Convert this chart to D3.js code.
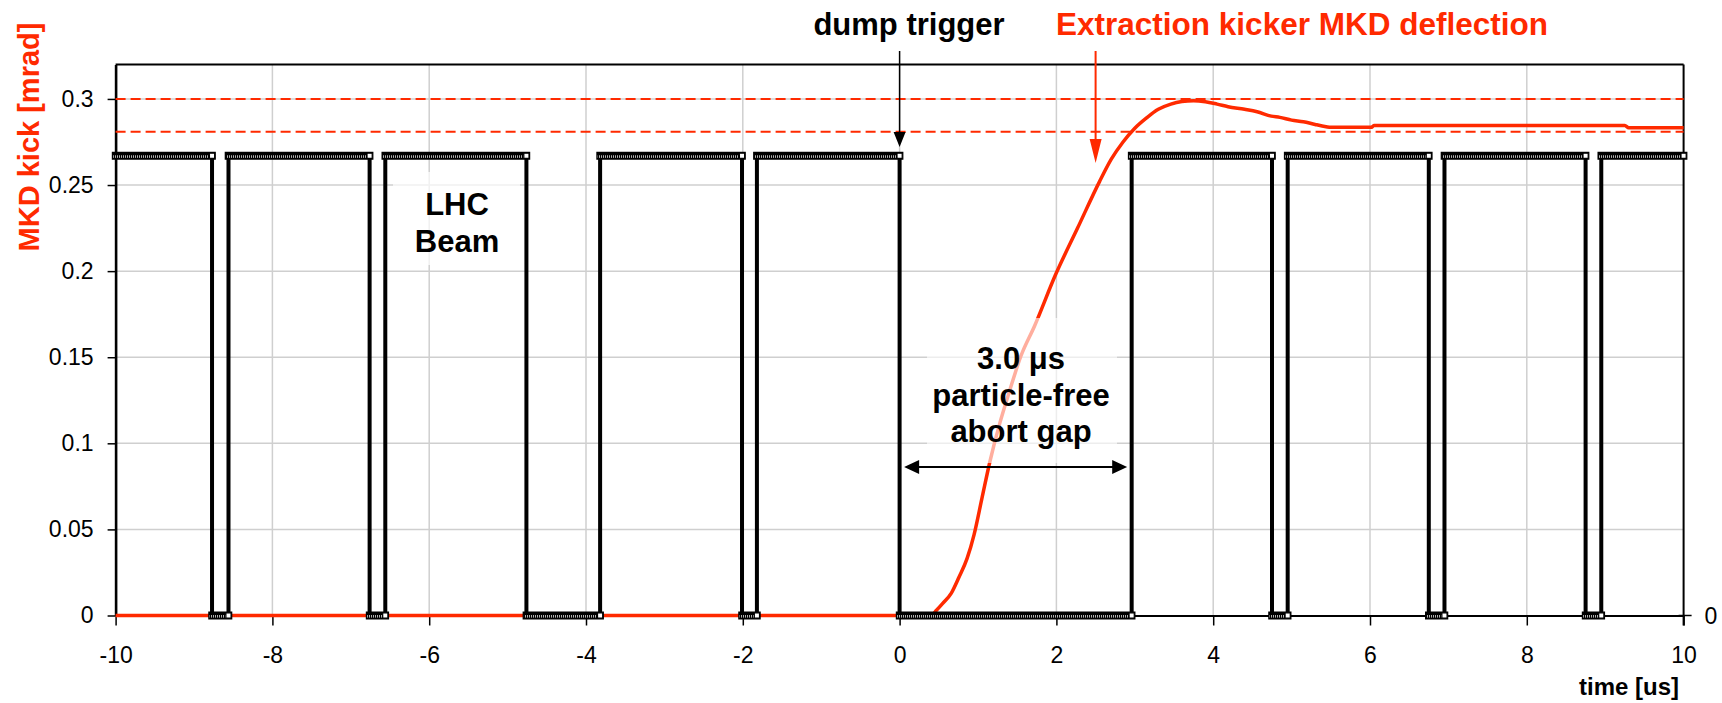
<!DOCTYPE html>
<html><head><meta charset="utf-8">
<script src="https://cdn.jsdelivr.net/npm/d3@7"></script>
<style>
body{margin:0;background:#fff;}
svg{display:block;font-family:"Liberation Sans",Arial,Helvetica,sans-serif;}
</style>
</head><body>
<svg id="chart" width="1722" height="703"></svg>
<script>
// ---- data ----
const xTicks = [-10,-8,-6,-4,-2,0,2,4,6,8,10];
const xTickLabels = ["-10","-8","-6","-4","-2","0","2","4","6","8","10"];
const yTicks = [0,0.05,0.1,0.15,0.2,0.25,0.3];
const yTickLabels = ["0","0.05","0.1","0.15","0.2","0.25","0.3"];
const beamLevel = 0.267;
const trainStart = [-10,-8.56,-6.56,-3.82,-1.82,2.96,4.95,6.95,8.95];
const trainEnd   = [-8.77,-6.76,-4.76,-2.01,0.0,4.75,6.75,8.75,10];
const mkdTime = [-10,0.40,0.47,0.55,0.66,0.76,0.86,0.95,1.05,1.15,1.28,1.40,1.55,1.72,1.99,2.27,2.55,2.70,2.85,3.0,3.15,3.3,3.46,3.6,3.75,3.9,4.05,4.19,4.4,4.56,4.74,4.85,5.0,5.15,5.3,5.44,5.5,6.02,6.05,9.25,9.3,10];
const mkdKick = [0,0,0.003,0.007,0.013,0.0225,0.033,0.047,0.068,0.089,0.112,0.13,0.151,0.168,0.198,0.225,0.252,0.265,0.275,0.283,0.289,0.294,0.297,0.2985,0.299,0.2984,0.297,0.2955,0.294,0.2926,0.290,0.2893,0.2877,0.2868,0.2852,0.2839,0.2835,0.2835,0.2846,0.2846,0.2833,0.2833];
const toleranceLevels = [0.281, 0.3];
const dumpTriggerTime = 0;
const kickerArrowTime = 2.5;
const gapStart = 0, gapEnd = 2.96;

// ---- setup ----
const RED = "#ff2a00";
const svg = d3.select("#chart");
const x = d3.scaleLinear().domain([-10,10]).range([115.6,1683.6]);
const y = d3.scaleLinear().domain([0,0.32]).range([615.5,64.5]);

const defs = svg.append("defs");
const pat = defs.append("pattern").attr("id","hatch").attr("patternUnits","userSpaceOnUse")
  .attr("width",2).attr("height",8);
pat.append("rect").attr("width",2).attr("height",8).attr("fill","#fff");
pat.append("rect").attr("width",1.3).attr("height",8).attr("fill","#000");

// gridlines
const grid = svg.append("g");
grid.selectAll("line.v").data(xTicks.filter(d=>d>-10&&d<10)).join("line")
  .attr("x1",d=>x(d)).attr("x2",d=>x(d)).attr("y1",y(0.32)).attr("y2",y(0))
  .attr("stroke","#cfcfcf").attr("stroke-width",1.5);
grid.selectAll("line.h").data(yTicks.filter(d=>d>0)).join("line")
  .attr("x1",x(-10)).attr("x2",x(10)).attr("y1",d=>y(d)).attr("y2",d=>y(d))
  .attr("stroke","#cfcfcf").attr("stroke-width",1.5);

// axes
const yAxis = d3.axisLeft(y).tickValues(yTicks).tickFormat((d,i)=>yTickLabels[i]).tickSize(8).tickPadding(14).tickSizeOuter(0);
const gy = svg.append("g").attr("transform",`translate(${x(-10)},0)`).call(yAxis);
gy.select(".domain").attr("stroke","#000").attr("stroke-width",2.6);
gy.selectAll(".tick line").attr("stroke","#000").attr("stroke-width",1.5);
gy.selectAll(".tick text").attr("font-size",23).attr("font-family","Liberation Sans, Arial, sans-serif").attr("fill","#000");

const xAxis = d3.axisBottom(x).tickValues(xTicks).tickFormat((d,i)=>xTickLabels[i]).tickSize(10).tickPadding(21).tickSizeOuter(0);
const gx = svg.append("g").attr("transform",`translate(0,${y(0)})`).call(xAxis);
gx.select(".domain").attr("stroke","#000").attr("stroke-width",2);
gx.selectAll(".tick line").attr("stroke","#000").attr("stroke-width",1.5);
gx.selectAll(".tick text").attr("font-size",23).attr("font-family","Liberation Sans, Arial, sans-serif").attr("fill","#000");

// top border + right axis
svg.append("line").attr("x1",x(-10)).attr("x2",x(10)).attr("y1",y(0.32)).attr("y2",y(0.32)).attr("stroke","#000").attr("stroke-width",2);
svg.append("line").attr("x1",x(10)).attr("x2",x(10)).attr("y1",y(0.32)).attr("y2",y(0)+10).attr("stroke","#000").attr("stroke-width",2);
svg.append("line").attr("x1",x(10)-5).attr("x2",x(10)+8).attr("y1",y(0)).attr("y2",y(0)).attr("stroke","#000").attr("stroke-width",1.5);
svg.append("text").attr("x",x(10)+21).attr("y",y(0)).attr("dy","0.35em").attr("font-size",23).text("0");

// tolerance dashed lines
svg.append("g").selectAll("line").data(toleranceLevels).join("line")
  .attr("x1",x(-10)).attr("x2",x(10)).attr("y1",d=>y(d)).attr("y2",d=>y(d))
  .attr("stroke",RED).attr("stroke-width",2).attr("stroke-dasharray","10,5");

// MKD curve
const mkdData = mkdTime.map((t,i)=>[t,mkdKick[i]]);
const mkdLine = d3.line().x(d=>x(d[0])).y(d=>y(d[1])).curve(d3.curveMonotoneX);
svg.append("path").datum(mkdData)
  .attr("d",mkdLine)
  .attr("fill","none").attr("stroke",RED).attr("stroke-width",3.5).attr("stroke-linejoin","round");

// semi-transparent label boxes
const boxes = svg.append("g");
boxes.append("rect").attr("x",393).attr("y",172).attr("width",127).attr("height",93)
  .attr("fill","#fff").attr("opacity",0.7);
boxes.append("rect").attr("x",927).attr("y",318).attr("width",190).attr("height",145)
  .attr("fill","#fff").attr("opacity",0.62);

// beam step line
const stepPts = [];
trainStart.forEach((s,i)=>{
  stepPts.push([s,beamLevel]); stepPts.push([trainEnd[i],beamLevel]);
  if(i<trainStart.length-1){ stepPts.push([trainEnd[i],0]); stepPts.push([trainStart[i+1],0]); }
});
svg.append("path").datum(stepPts)
  .attr("d",d3.line().x(d=>x(d[0])).y(d=>y(d[1])))
  .attr("fill","none").attr("stroke","#000").attr("stroke-width",4);

// marker bands
const segs = [];
trainStart.forEach((s,i)=>{
  segs.push({a:s,b:trainEnd[i],v:beamLevel});
  if(i<trainStart.length-1) segs.push({a:trainEnd[i],b:trainStart[i+1],v:0});
});
const bands = svg.append("g");
segs.forEach(sg=>{
  const x0 = x(sg.a), x1 = x(sg.b), yy = y(sg.v);
  bands.append("rect").attr("x",x0-3.8).attr("y",yy-4).attr("width",x1-x0+7.6).attr("height",8).attr("fill","#000");
  bands.append("rect").attr("x",x0-2.5).attr("y",yy-0.5).attr("width",Math.max(0,x1-x0+3)).attr("height",2.6).attr("fill","url(#hatch)");
  bands.append("rect").attr("x",x1-2.6).attr("y",yy-2.6).attr("width",5.2).attr("height",5.2)
    .attr("fill","#fff").attr("stroke","#000").attr("stroke-width",1.2);
});

// axis titles
svg.append("text").attr("x",1679).attr("y",695).attr("text-anchor","end").attr("font-weight","bold").attr("font-size",24).text("time [us]");
svg.append("text").attr("transform","translate(39,137) rotate(-90)").attr("text-anchor","middle")
  .attr("font-weight","bold").attr("font-size",29).attr("fill",RED).text("MKD kick [mrad]");

// annotations
function arrowDown(xp, y0, y1, color, w, hl, hw){
  svg.append("line").attr("x1",xp).attr("x2",xp).attr("y1",y0).attr("y2",y1-hl+1).attr("stroke",color).attr("stroke-width",w);
  svg.append("path").attr("d",`M${xp},${y1} L${xp-hw},${y1-hl} L${xp+hw},${y1-hl} Z`).attr("fill",color);
}
arrowDown(x(dumpTriggerTime), 51, 147, "#000", 1.5, 15, 6);
arrowDown(x(kickerArrowTime), 51, 163, RED, 2, 24, 6);

svg.append("text").attr("x",909).attr("y",35).attr("text-anchor","middle").attr("font-weight","bold").attr("font-size",31).text("dump trigger");
svg.append("text").attr("x",1302).attr("y",35).attr("text-anchor","middle").attr("font-weight","bold").attr("font-size",31.5).attr("fill",RED).text("Extraction kicker MKD deflection");

svg.append("text").attr("x",457).attr("y",215).attr("text-anchor","middle").attr("font-weight","bold").attr("font-size",31).text("LHC");
svg.append("text").attr("x",457).attr("y",252).attr("text-anchor","middle").attr("font-weight","bold").attr("font-size",31).text("Beam");

svg.append("text").attr("x",1021).attr("y",369).attr("text-anchor","middle").attr("font-weight","bold").attr("font-size",31).text("3.0 μs");
svg.append("text").attr("x",1021).attr("y",406).attr("text-anchor","middle").attr("font-weight","bold").attr("font-size",31).text("particle-free");
svg.append("text").attr("x",1021).attr("y",442).attr("text-anchor","middle").attr("font-weight","bold").attr("font-size",31).text("abort gap");

// double arrow for the abort gap
const ya = 467, xa0 = x(gapStart)+4.5, xa1 = x(gapEnd)-4.5;
svg.append("line").attr("x1",xa0+12).attr("x2",xa1-12).attr("y1",ya).attr("y2",ya).attr("stroke","#000").attr("stroke-width",2);
svg.append("path").attr("d",`M${xa0},${ya} L${xa0+15},${ya-7} L${xa0+15},${ya+7} Z`).attr("fill","#000");
svg.append("path").attr("d",`M${xa1},${ya} L${xa1-15},${ya-7} L${xa1-15},${ya+7} Z`).attr("fill","#000");
</script>
</body></html>
